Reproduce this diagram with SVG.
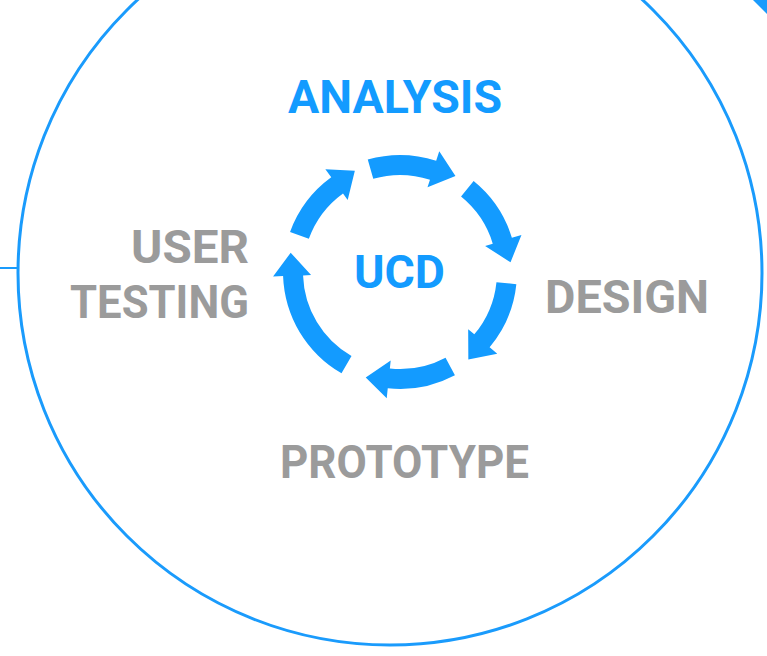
<svg xmlns="http://www.w3.org/2000/svg" xmlns:xlink="http://www.w3.org/1999/xlink" width="767" height="656" viewBox="0 0 767 656">
  <style>
    .lbl { font-family: Roboto, "Liberation Sans", sans-serif; font-weight: 700; font-size: 46px; }
    .blue { fill: #139bff; }
    .gray { fill: #9b9b9b; }
    .arr { fill: #139bff; }
  </style>
  <defs>
    <path id="arrow46" d="M117,0 A117,117 0 0 1 96.99,65.43 L105.28,71.02 L77.1,79.8 L73.78,49.77 L80.41,54.24 A97,97 0 0 0 97,0 Z"/>
    <path id="arrow70" d="M117,0 A117,117 0 0 1 62.0,99.22 L67.3,107.7 L37.96,104.3 L47.16,75.47 L51.4,82.26 A97,97 0 0 0 97,0 Z"/>
  </defs>
  <rect width="767" height="656" fill="#ffffff"/>
  <g id="frame">
    <circle cx="390" cy="273" r="372" fill="none" stroke="#1a9bfc" stroke-width="3"/>
    <line x1="0" y1="268" x2="18" y2="268" stroke="#1a9bfc" stroke-width="2"/>
    <polygon points="753,0 767,0 767,14" fill="#1a9bfc"/>
  </g>
  <g id="connectors" class="arr" transform="translate(400,272)">
    <use xlink:href="#arrow46" transform="rotate(-106)"/>
    <use xlink:href="#arrow46" transform="rotate(-51)"/>
    <use xlink:href="#arrow46" transform="rotate(6)"/>
    <use xlink:href="#arrow46" transform="rotate(62)"/>
    <use xlink:href="#arrow70" transform="rotate(120)"/>
    <use xlink:href="#arrow46" transform="rotate(200)"/>
  </g>
  <g id="ucd">
    <text class="lbl blue" x="354" y="288" textLength="91" lengthAdjust="spacingAndGlyphs">UCD</text>
  </g>
  <g id="analysis">
    <text class="lbl blue" x="288" y="113" textLength="214" lengthAdjust="spacingAndGlyphs">ANALYSIS</text>
  </g>
  <g id="design">
    <text class="lbl gray" x="545" y="313" textLength="164" lengthAdjust="spacingAndGlyphs">DESIGN</text>
  </g>
  <g id="prototype">
    <text class="lbl gray" x="280" y="478" textLength="249" lengthAdjust="spacingAndGlyphs">PROTOTYPE</text>
  </g>
  <g id="user-testing">
    <text class="lbl gray" x="131" y="263" textLength="118" lengthAdjust="spacingAndGlyphs">USER</text>
    <text class="lbl gray" x="70" y="318" textLength="179" lengthAdjust="spacingAndGlyphs">TESTING</text>
  </g>
</svg>
